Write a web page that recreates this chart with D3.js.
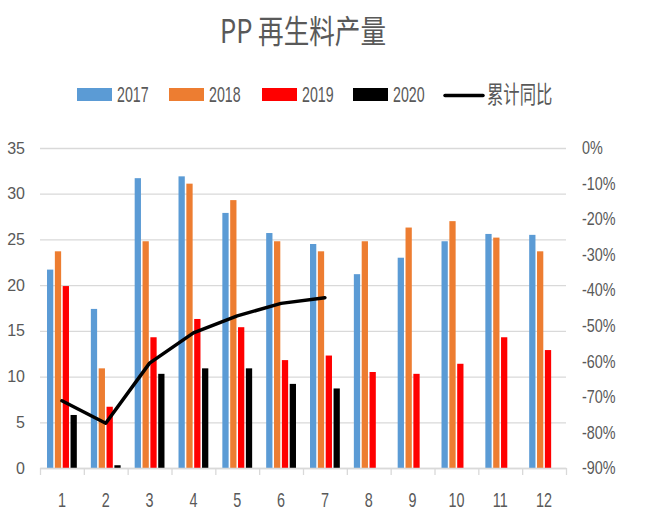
<meta charset="utf-8">
<style>
    body { margin: 0; background: #ffffff; }
    text { font-family: "Liberation Sans", "Noto Sans CJK SC", sans-serif; fill: #595959; }
</style>
<body>
<script src="https://d3js.org/d3.v7.min.js"></script>
<script>
    // data
    const months = ["1", "2", "3", "4", "5", "6", "7", "8", "9", "10", "11", "12"];
    const years = ["2017", "2018", "2019", "2020"];
    const v2017 = [21.7, 17.4, 31.7, 31.9, 27.9, 25.7, 24.5, 21.2, 23.0, 24.8, 25.6, 25.5];
    const v2018 = [23.7, 10.9, 24.8, 31.1, 29.3, 24.8, 23.7, 24.8, 26.3, 27.0, 25.2, 23.7];
    const v2019 = [19.9, 6.7, 14.3, 16.3, 15.4, 11.8, 12.3, 10.5, 10.3, 11.4, 14.3, 12.9];
    const v2020 = [5.8, 0.3, 10.3, 10.9, 10.9, 9.2, 8.7, null, null, null, null, null];
    const cumYoY = [-71.1, -77.4, -60.5, -52.0, -47.2, -43.7, -42.1];   // %
    const leftTicks = [0, 5, 10, 15, 20, 25, 30, 35];
    const rightTicks = [0, -10, -20, -30, -40, -50, -60, -70, -80, -90];
    const lineName = "累计同比";
    const title = "PP 再生料产量";

    const colors = {"2017": "#5b9bd5", "2018": "#ed7d31", "2019": "#ff0000", "2020": "#000000"};
    const series = {"2017": v2017, "2018": v2018, "2019": v2019, "2020": v2020};

    let width = 660, height = 511;
    let plotL = 40, plotR = 566, plotT = 148, plotB = 468;

    let svg = d3.select("body").append("svg")
        .attr("width", width)
        .attr("height", height);

    let x0 = d3.scaleBand().domain(months).range([plotL, plotR])
        .paddingInner(0.32).paddingOuter(0.16);
    let x1 = d3.scaleBand().domain(years).range([0, x0.bandwidth()]).paddingInner(0.2);
    let y = d3.scaleLinear().domain([0, 35]).range([plotB, plotT]);
    let yR = d3.scaleLinear().domain([-90, 0]).range([plotB, plotT]);

    // gridlines + left labels
    let gy = svg.append("g")
        .attr("transform", "translate(" + plotL + ",0)")
        .call(d3.axisLeft(y).tickValues(leftTicks).tickSize(-(plotR - plotL)).tickPadding(15));
    gy.select(".domain").remove();
    gy.selectAll("line").attr("stroke", "#d9d9d9").attr("stroke-width", 1.3);
    gy.selectAll("text").style("font-size", "16px").style("fill", "#595959");

    // right labels
    let gr = svg.append("g")
        .attr("transform", "translate(" + plotR + ",0)")
        .call(d3.axisRight(yR).tickValues(rightTicks).tickSize(0)
            .tickFormat(function (d) { return d + "%"; }));
    gr.select(".domain").remove();
    gr.selectAll("text")
        .attr("x", null)
        .attr("transform", "translate(16,0) scale(0.8,1)")
        .style("font-size", "18px").style("fill", "#595959");

    // bars
    years.forEach(function (yr) {
        svg.append("g").selectAll("rect")
            .data(months.map(function (m, i) { return {m: m, v: series[yr][i]}; })
                .filter(function (d) { return d.v != null; }))
            .join("rect")
            .attr("x", function (d) { return x0(d.m) + x1(yr); })
            .attr("width", x1.bandwidth())
            .attr("y", function (d) { return y(d.v); })
            .attr("height", function (d) { return plotB - y(d.v); })
            .attr("fill", colors[yr]);
    });

    // bottom axis line with category boundaries
    let xb = d3.scaleLinear().domain([0, months.length]).range([plotL, plotR]);
    let gb = svg.append("g")
        .attr("transform", "translate(0," + plotB + ")")
        .call(d3.axisBottom(xb).ticks(months.length).tickSize(7).tickSizeOuter(0).tickFormat(""));
    gb.selectAll("line, path").attr("stroke", "#d9d9d9").attr("stroke-width", 1.3);

    let gx = svg.append("g")
        .attr("transform", "translate(0," + plotB + ")")
        .call(d3.axisBottom(x0).tickSize(0));
    gx.select(".domain").remove();
    gx.selectAll("text")
        .attr("y", null).attr("dy", null)
        .attr("transform", "translate(0,38.5) scale(0.72,1)")
        .style("font-size", "20px").style("fill", "#595959");

    // cumulative yoy line
    let line = d3.line()
        .x(function (d, i) { return x0(months[i]) + x0.bandwidth() / 2; })
        .y(function (d) { return yR(d); });
    svg.append("path")
        .datum(cumYoY)
        .attr("d", line)
        .attr("fill", "none")
        .attr("stroke", "#000")
        .attr("stroke-width", 3.5)
        .attr("stroke-linejoin", "round")
        .attr("stroke-linecap", "round");

    // title
    svg.append("text")
        .attr("transform", "translate(303,43) scale(0.8,1)")
        .attr("text-anchor", "middle")
        .style("font-family", "'Noto Sans CJK SC', sans-serif")
        .style("font-size", "32px")
        .text(title);

    // legend
    let legendX = [77, 169, 262, 353];
    years.forEach(function (yr, i) {
        svg.append("rect")
            .attr("x", legendX[i]).attr("y", 88)
            .attr("width", 35).attr("height", 13)
            .attr("fill", colors[yr]);
        svg.append("text")
            .attr("transform", "translate(" + (legendX[i] + 40) + ",102) scale(0.66,1)")
            .style("font-size", "21.5px")
            .text(yr);
    });
    svg.append("line")
        .attr("x1", 445).attr("x2", 483).attr("y1", 95.5).attr("y2", 95.5)
        .attr("stroke", "#000").attr("stroke-width", 3.5).attr("stroke-linecap", "round");
    svg.append("text")
        .attr("transform", "translate(487,103) scale(0.68,1)")
        .style("font-family", "'Noto Sans CJK SC', sans-serif")
        .style("font-size", "24px")
        .text(lineName);
</script>
